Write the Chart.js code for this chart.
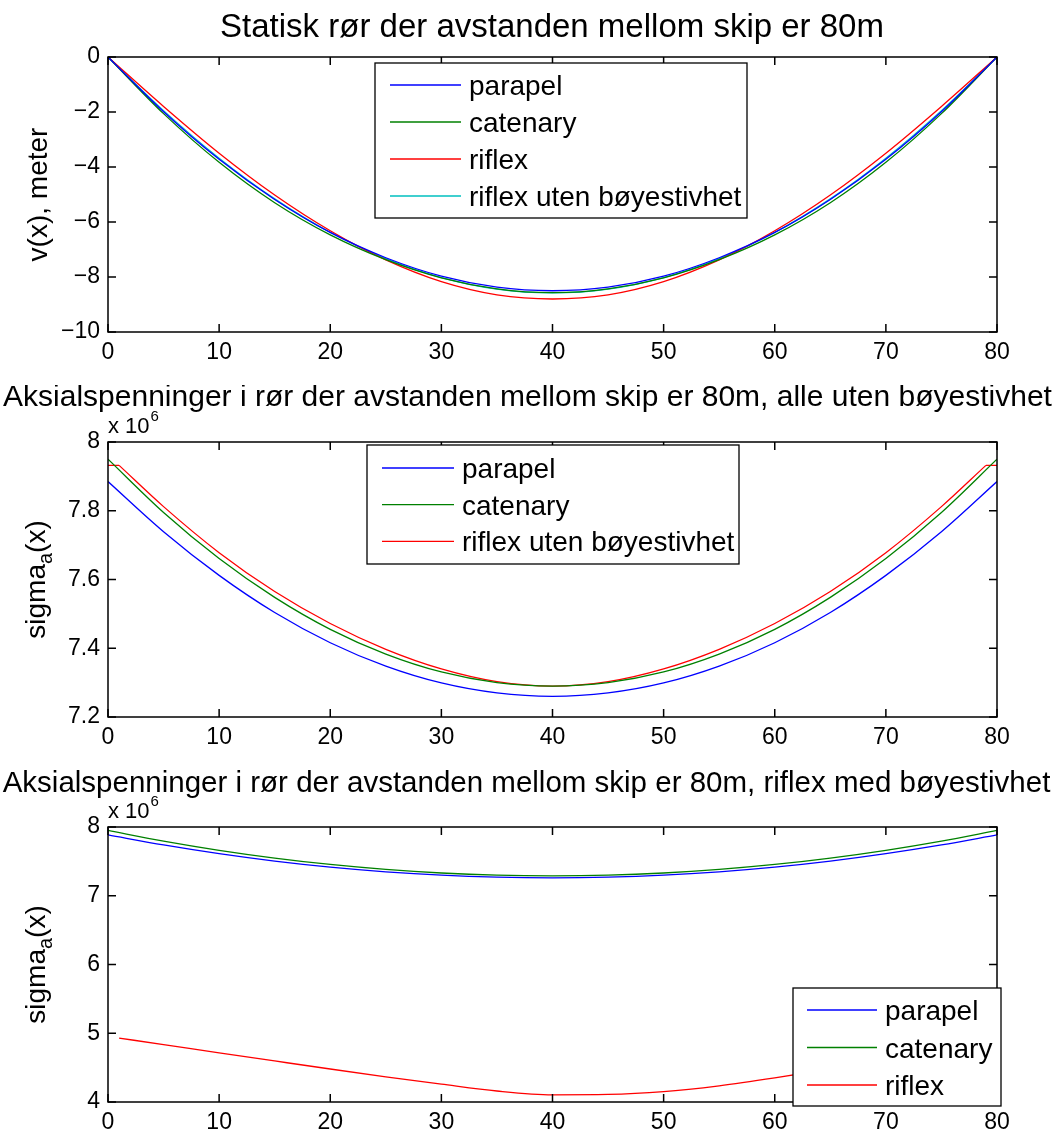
<!DOCTYPE html>
<html>
<head>
<meta charset="utf-8">
<script src="https://cdn.jsdelivr.net/npm/chart.js@4.4.1/dist/chart.umd.min.js"></script>
<style>
  body { margin: 0; background: #fff; }
  canvas { position: absolute; left: 0; }
</style>
</head>
<body>
<canvas id="c1" width="1057" height="385" style="top:0px"></canvas>
<canvas id="c2" width="1057" height="385" style="top:385px"></canvas>
<canvas id="c3" width="1057" height="367" style="top:770px"></canvas>
<script>
const FONT = '"Liberation Sans", Arial, Helvetica, sans-serif';

// x-posisjoner (meter)
const xs = [0, 5, 10, 15, 20, 25, 30, 35, 40, 45, 50, 55, 60, 65, 70, 75, 80];
const xsRiflex = [1, 5, 10, 15, 20, 25, 30, 35, 40, 45, 50, 55, 60, 65, 70, 75, 79];

// Plot 1: nedbøyning v(x), meter
const parapelV = [0, -1.99, -3.72, -5.18, -6.38, -7.30, -7.97, -8.37, -8.50, -8.37, -7.97, -7.30, -6.38, -5.18, -3.72, -1.99, 0];
const catenaryV = [0, -2.06, -3.83, -5.30, -6.47, -7.37, -8.03, -8.43, -8.57, -8.43, -8.03, -7.37, -6.47, -5.30, -3.83, -2.06, 0];
const riflexV = [0, -1.80, -3.50, -5.02, -6.32, -7.38, -8.17, -8.65, -8.80, -8.65, -8.17, -7.38, -6.32, -5.02, -3.50, -1.80, 0];
const riflexUtenV = [0, -1.95, -3.68, -5.16, -6.38, -7.33, -8.02, -8.44, -8.58, -8.44, -8.02, -7.33, -6.38, -5.16, -3.68, -1.95, 0];

// Plot 2 og 3: aksialspenning (x 10^6)
const parapelS = [7.885, 7.739, 7.612, 7.504, 7.416, 7.348, 7.299, 7.270, 7.260, 7.270, 7.299, 7.348, 7.416, 7.504, 7.612, 7.739, 7.885];
const catenaryS = [7.950, 7.795, 7.661, 7.548, 7.455, 7.383, 7.331, 7.300, 7.290, 7.300, 7.331, 7.383, 7.455, 7.548, 7.661, 7.795, 7.950];
const riflexUtenS = [7.932, 7.812, 7.678, 7.565, 7.472, 7.397, 7.340, 7.303, 7.290, 7.303, 7.340, 7.397, 7.472, 7.565, 7.678, 7.812, 7.932];
// flate endestykker (x=0..1 og x=79..80)
const riflexUtenEndX = [0, 1, null, 79, 80];
const riflexUtenEndS = [7.932, 7.932, null, 7.932, 7.932];
const riflexS = [4.93, 4.835, 4.715, 4.597, 4.48, 4.367, 4.26, 4.16, 4.105, 4.11, 4.15, 4.235, 4.35, 4.48, 4.62, 4.77, 4.89];

const xTicks = [0, 10, 20, 30, 40, 50, 60, 70, 80];

function pts(x, y) {
  return x.map((v, i) => ({ x: v === null ? NaN : v, y: y[i] }));
}

// ramme + tickmerker innover (som i matlab)
const framePlugin = {
  id: 'frame',
  afterDatasetsDraw(chart) {
    const ctx = chart.ctx, a = chart.chartArea;
    const tl = 8;
    ctx.save();
    ctx.strokeStyle = '#000';
    ctx.lineWidth = 1.5;
    ctx.strokeRect(a.left, a.top, a.right - a.left, a.bottom - a.top);
    ctx.beginPath();
    for (const t of chart.scales.x.ticks) {
      const px = chart.scales.x.getPixelForValue(t.value);
      ctx.moveTo(px, a.bottom); ctx.lineTo(px, a.bottom - tl);
      ctx.moveTo(px, a.top); ctx.lineTo(px, a.top + tl);
    }
    for (const t of chart.scales.y.ticks) {
      const py = chart.scales.y.getPixelForValue(t.value);
      ctx.moveTo(a.left, py); ctx.lineTo(a.left + tl, py);
      ctx.moveTo(a.right, py); ctx.lineTo(a.right - tl, py);
    }
    ctx.stroke();
    ctx.restore();
  }
};

// legende med hvit boks
const legendPlugin = {
  id: 'boxLegend',
  afterDraw(chart, args, o) {
    const ctx = chart.ctx;
    ctx.save();
    ctx.fillStyle = '#fff';
    ctx.fillRect(o.x, o.y, o.w, o.h);
    ctx.strokeStyle = '#000';
    ctx.lineWidth = 1.3;
    ctx.strokeRect(o.x, o.y, o.w, o.h);
    ctx.font = '28px ' + FONT;
    ctx.textAlign = 'left';
    ctx.textBaseline = 'alphabetic';
    const items = chart.data.datasets.filter(ds => !ds.noLegend);
    items.forEach((ds, i) => {
      const cy = o.y + o.first + i * o.step;
      ctx.strokeStyle = ds.borderColor;
      ctx.lineWidth = 1.3;
      ctx.beginPath();
      ctx.moveTo(o.x + o.l0, cy);
      ctx.lineTo(o.x + o.l1, cy);
      ctx.stroke();
      ctx.fillStyle = '#000';
      ctx.fillText(ds.label, o.x + o.tx, cy + 10);
    });
    ctx.restore();
  }
};

// tittel, y-tekst (med senket skrift) og eksponent
const textPlugin = {
  id: 'texts',
  afterDraw(chart, args, o) {
    const ctx = chart.ctx, a = chart.chartArea;
    ctx.save();
    ctx.fillStyle = '#000';
    ctx.textAlign = 'center';
    ctx.textBaseline = 'alphabetic';
    ctx.font = o.titleSize + 'px ' + FONT;
    ctx.fillText(o.title, o.titleX, o.titleY);

    ctx.save();
    ctx.translate(o.ylabelX, (a.top + a.bottom) / 2);
    ctx.rotate(-Math.PI / 2);
    ctx.textAlign = 'left';
    let w = 0;
    for (const p of o.ylabel) {
      ctx.font = p.size + 'px ' + FONT;
      w += ctx.measureText(p.text).width;
    }
    let x = -w / 2;
    for (const p of o.ylabel) {
      ctx.font = p.size + 'px ' + FONT;
      ctx.fillText(p.text, x, p.dy || 0);
      x += ctx.measureText(p.text).width;
    }
    ctx.restore();

    if (o.exponent) {
      ctx.textAlign = 'left';
      ctx.font = '22px ' + FONT;
      const base = 'x 10';
      ctx.fillText(base, a.left, a.top - 9);
      const bw = ctx.measureText(base).width;
      ctx.font = '15px ' + FONT;
      ctx.fillText(o.exponent, a.left + bw + 1, a.top - 21);
    }
    ctx.restore();
  }
};

function makeChart(id, c) {
  return new Chart(document.getElementById(id), {
    type: 'line',
    data: {
      datasets: c.series.map(s => ({
        label: s.label,
        data: pts(s.x, s.y),
        borderColor: s.color,
        borderWidth: 1.3,
        pointRadius: 0,
        fill: false,
        spanGaps: false,
        noLegend: !!s.noLegend,
        cubicInterpolationMode: 'monotone',
        tension: s.noLegend ? 0 : 0.4
      }))
    },
    options: {
      responsive: false,
      animation: false,
      devicePixelRatio: 1,
      layout: { padding: { left: 48, right: 60, top: 57, bottom: c.padBottom } },
      plugins: {
        legend: { display: false },
        tooltip: { enabled: false },
        title: { display: false },
        boxLegend: c.legend,
        texts: c.texts
      },
      scales: {
        x: {
          type: 'linear', min: 0, max: 80,
          afterBuildTicks: s => { s.ticks = xTicks.map(v => ({ value: v })); },
          ticks: { font: { family: FONT, size: 23 }, color: '#000', padding: 7, maxRotation: 0 },
          grid: { display: false, drawTicks: false },
          border: { display: false },
          afterFit: s => { s.height = 30; }
        },
        y: {
          type: 'linear', min: c.yMin, max: c.yMax,
          afterBuildTicks: s => { s.ticks = c.yTicks.map(v => ({ value: v })); },
          ticks: { font: { family: FONT, size: 23 }, color: '#000', padding: 8, callback: c.yFmt },
          grid: { display: false, drawTicks: false },
          border: { display: false },
          afterFit: s => { s.width = 60; }
        }
      }
    },
    plugins: [framePlugin, legendPlugin, textPlugin]
  });
}

const minus = v => (v < 0 ? '\u2212' + Math.abs(v) : String(v));
const dec = v => String(Math.round(v * 10) / 10);

makeChart('c1', {
  series: [
    { label: 'parapel', x: xs, y: parapelV, color: '#0000ff' },
    { label: 'catenary', x: xs, y: catenaryV, color: '#008000' },
    { label: 'riflex', x: xs, y: riflexV, color: '#ff0000' },
    { label: 'riflex uten bøyestivhet', x: xs, y: riflexUtenV, color: '#00bfbf' }
  ],
  yMin: -10, yMax: 0, yTicks: [-10, -8, -6, -4, -2, 0], yFmt: minus,
  padBottom: 23,
  legend: { x: 375, y: 63, w: 372, h: 155, first: 22, step: 37, l0: 15, l1: 86, tx: 94 },
  texts: {
    title: 'Statisk rør der avstanden mellom skip er 80m', titleSize: 33, titleX: 552, titleY: 37,
    ylabelX: 47, ylabel: [{ text: 'v(x), meter', size: 28 }]
  }
});

makeChart('c2', {
  series: [
    { label: 'parapel', x: xs, y: parapelS, color: '#0000ff' },
    { label: 'catenary', x: xs, y: catenaryS, color: '#008000' },
    { label: 'riflex uten bøyestivhet', x: xsRiflex, y: riflexUtenS, color: '#ff0000' },
    { label: 'riflex uten bøyestivhet', x: riflexUtenEndX, y: riflexUtenEndS, color: '#ff0000', noLegend: true }
  ],
  yMin: 7.2, yMax: 8, yTicks: [7.2, 7.4, 7.6, 7.8, 8], yFmt: dec,
  padBottom: 23,
  legend: { x: 367, y: 60, w: 372, h: 119, first: 23, step: 36.7, l0: 15, l1: 87, tx: 95 },
  texts: {
    title: 'Aksialspenninger i rør der avstanden mellom skip er 80m, alle uten bøyestivhet', titleSize: 30, titleX: 527.5, titleY: 21,
    ylabelX: 45, ylabel: [{ text: 'sigma', size: 28 }, { text: 'a', size: 20, dy: 7 }, { text: '(x)', size: 28 }],
    exponent: '6'
  }
});

makeChart('c3', {
  series: [
    { label: 'parapel', x: xs, y: parapelS, color: '#0000ff' },
    { label: 'catenary', x: xs, y: catenaryS, color: '#008000' },
    { label: 'riflex', x: xsRiflex, y: riflexS, color: '#ff0000' }
  ],
  yMin: 4, yMax: 8, yTicks: [4, 5, 6, 7, 8], yFmt: v => String(v),
  padBottom: 5,
  legend: { x: 793, y: 218, w: 208, h: 118, first: 22, step: 37.5, l0: 14, l1: 84, tx: 92 },
  texts: {
    title: 'Aksialspenninger i rør der avstanden mellom skip er 80m, riflex med bøyestivhet', titleSize: 29.5, titleX: 526.5, titleY: 22,
    ylabelX: 45, ylabel: [{ text: 'sigma', size: 28 }, { text: 'a', size: 20, dy: 7 }, { text: '(x)', size: 28 }],
    exponent: '6'
  }
});
</script>
</body>
</html>
